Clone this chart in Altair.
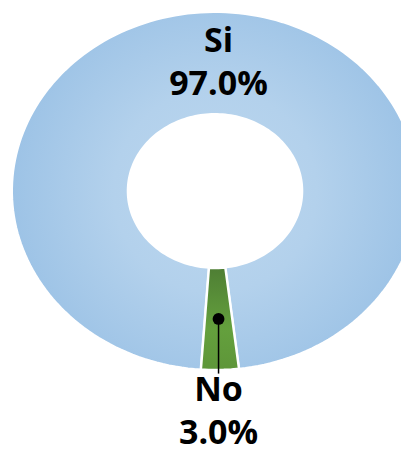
import altair as alt
import numpy as np
import pandas as pd

categories = ["Si", "No"]
values = [97.0, 3.0]
pct_labels = ["97.0%", "3.0%"]

start_deg = 184.0  # angle (clockwise from top) where the first slice starts
inner = 0.43
n_pts = 200

rows = []
total = sum(values)
a0 = np.deg2rad(start_deg)
slices = []
for cat, v in zip(categories, values):
    a1 = a0 + 2 * np.pi * v / total
    slices.append((cat, a0, a1))
    k = max(4, int(n_pts * v / total))
    outer_t = np.linspace(a0, a1, k)
    inner_t = outer_t[::-1]
    o = 0
    for t in outer_t:
        rows.append({"cat": cat, "x": np.sin(t), "y": np.cos(t), "o": o}); o += 1
    for t in inner_t:
        rows.append({"cat": cat, "x": inner * np.sin(t), "y": inner * np.cos(t), "o": o}); o += 1
    rows.append({"cat": cat, "x": np.sin(a0), "y": np.cos(a0), "o": o})
    a0 = a1
poly = pd.DataFrame(rows)

# label / leader positions derived from slice mid-angles
mid_r = (1 + inner) / 2
lab_rows = []
for (cat, s, e), p in zip(slices, pct_labels):
    m = (s + e) / 2
    lab_rows.append({"cat": cat, "mx": mid_r * np.sin(m), "my": mid_r * np.cos(m),
                     "label": cat + "\n" + p})
labs = pd.DataFrame(lab_rows)
labs_si = labs[labs.cat == "Si"].copy()
labs_no = labs[labs.cat == "No"].copy()
labs_no["ly"] = -1.02
labs_no["ty"] = -1.24

W, H = 393, 444
xs = alt.Scale(domain=[-1, 1], range=[4, 410])
ys = alt.Scale(domain=[-1, 1], range=[362, 4])
X = lambda f: alt.X(f, type="quantitative", scale=xs, axis=None)
Y = lambda f: alt.Y(f, type="quantitative", scale=ys, axis=None)

blue = alt.RadialGradient(gradient="radial", x1=0.5, y1=0.5, x2=0.5, y2=0.5, r1=0, r2=0.5,
                          stops=[alt.GradientStop(color="#BCD7EE", offset=0),
                                 alt.GradientStop(color="#B3D1EC", offset=0.5),
                                 alt.GradientStop(color="#9DC3E6", offset=1)])
green = alt.LinearGradient(gradient="linear", x1=0, y1=0, x2=0, y2=1,
                           stops=[alt.GradientStop(color="#4E7E34", offset=0),
                                  alt.GradientStop(color="#64A03D", offset=0.6),
                                  alt.GradientStop(color="#5E9639", offset=1)])

base = alt.Chart(poly)
si = base.transform_filter(alt.datum.cat == "Si").mark_line(
    fill=blue, stroke="white", strokeWidth=2, interpolate="linear-closed"
).encode(x=X("x"), y=Y("y"), order="o:Q")
no = base.transform_filter(alt.datum.cat == "No").mark_line(
    fill=green, stroke="white", strokeWidth=2.5, interpolate="linear-closed"
).encode(x=X("x"), y=Y("y"), order="o:Q")

txt = dict(font="Open Sans", fontWeight="bold", fontSize=34, color="black",
           lineBreak="\n", lineHeight=43, baseline="middle", align="center", dy=-21.5)

lab_si = alt.Chart(labs_si).mark_text(dx=7, **txt).encode(x=X("mx"), y=Y("my"), text="label:N")

leader = alt.Chart(labs_no).mark_rule(color="black", strokeWidth=1.5).encode(
    x=X("mx"), y=Y("my"), y2="ly")
dot = alt.Chart(labs_no).mark_point(filled=True, color="black", size=140, opacity=1).encode(
    x=X("mx"), y=Y("my"))
lab_no = alt.Chart(labs_no).mark_text(**txt).encode(x=X("mx"), y=Y("ty"), text="label:N")

chart = alt.layer(si, no, leader, dot, lab_si, lab_no).properties(
    width=W, height=H, padding=0, autosize="none"
).configure_view(stroke=None)

chart.save("out.html", embed_options={"renderer": "svg", "actions": False})
